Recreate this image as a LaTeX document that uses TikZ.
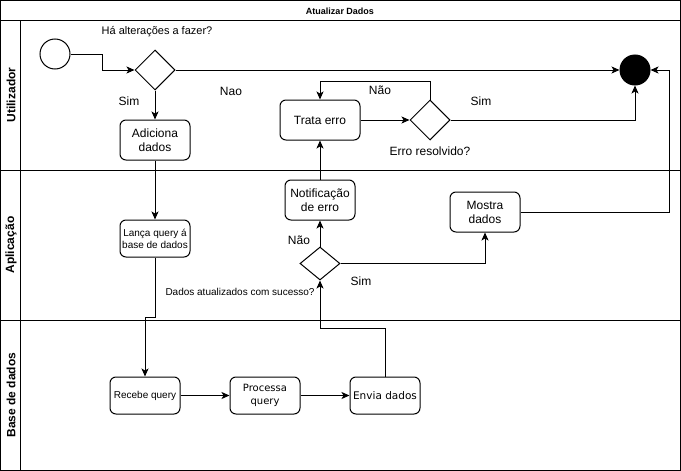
\documentclass[tikz,border=0pt]{standalone}
\usepackage{fontspec}
\setmainfont{Liberation Sans}
\newfontfamily\dejavu{DejaVu Sans}
\usetikzlibrary{arrows.meta,shapes.geometric}
\begin{document}
\begin{tikzpicture}[x=1pt,y=-1pt,line width=1pt,
  font=\fontsize{12}{14}\selectfont,
  act/.style={draw,rounded corners=6pt,minimum width=70pt,align=center,inner sep=1pt},
  dec/.style={draw,diamond,minimum width=40pt,minimum height=40pt,inner sep=0pt},
  arr/.style={-{Stealth[length=8pt,width=7pt,inset=2pt]}},
  lbl/.style={inner sep=0pt},
  small/.style={font=\fontsize{10}{12}\selectfont},
  lane/.style={rotate=90,font=\bfseries\fontsize{12}{14}\selectfont,inner sep=0pt}]
\useasboundingbox (0,0) rectangle (681,471);
% frame and lanes
\draw (0.5,0.5) rectangle (680.5,470.5);
\draw (0.5,20.5) -- (680.5,20.5);
\draw (20.5,20.5) -- (20.5,470.5);
\draw (0.5,170.5) -- (680.5,170.5);
\draw (0.5,320.5) -- (680.5,320.5);
\node[lbl,font=\bfseries\fontsize{9}{11}\selectfont] (title) at (340,11) {Atualizar Dados};
\node[lane] (l1) at (11,95) {Utilizador};
\node[lane] (l2) at (11,245) {Aplicação};
\node[lane] (l3) at (11,395) {Base de dados};
% nodes
\node[draw,circle,minimum size=30pt,inner sep=0pt] (start) at (55,54) {};
\node[draw,circle,fill=black,minimum size=30pt,inner sep=0pt] (end) at (635,70) {};
\node[dec] (d1) at (155,70) {};
\node[act,minimum height=40pt] (adic) at (155,140) {Adiciona\\dados};
\node[act,minimum width=80pt,minimum height=40pt] (trata) at (320,120) {Trata erro};
\node[dec] (d2) at (430,120) {};
\node[act,minimum height=40pt] (notif) at (320,200) {Notificação\\de erro};
\node[act,minimum height=40pt] (mostra) at (485,212) {Mostra\\dados};
\node[act,small,minimum height=37pt,inner sep=0pt] (lanca) at (155,238.5) {Lança query á\\base de dados};
\node[dec,minimum height=33pt] (d3) at (320,263.5) {};
\node[act,small,minimum height=37pt] (recebe) at (145,395.5) {Recebe query};
\node[act,small,minimum height=37pt,font=\dejavu\fontsize{10}{13}\selectfont] (proc) at (265,395.5) {Processa\\query};
\node[act,small,minimum height=37pt,font=\dejavu\fontsize{10.5}{13}\selectfont,inner sep=0pt] (envia) at (385,395.5) {Envia dados};
% labels
\node[lbl,font=\fontsize{11}{13}\selectfont] (q1) at (157,32) {Há alterações a fazer?};
\node[lbl] (sim1) at (129,101) {Sim};
\node[lbl] (nao1) at (231,91) {Nao};
\node[lbl] (nao2) at (380,90) {Não};
\node[lbl] (sim2) at (481,101) {Sim};
\node[lbl] (q2) at (430,151) {Erro resolvido?};
\node[lbl] (nao3) at (299,240) {Não};
\node[lbl] (sim3) at (361,281) {Sim};
\node[lbl,small] (q3) at (240,292) {Dados atualizados com sucesso?};
% connectors
\coordinate (c1) at (102,54);
\draw[arr] (start.east) -- (c1) |- (d1.west);
\draw[arr] (d1.east) -- (end.west);
\draw[arr] (d1.south) -- (adic.north);
\draw[arr] (adic.south) -- (lanca.north);
\coordinate (c2) at (155,317.5);
\coordinate (c3) at (145,317.5);
\draw[arr] (lanca.south) -- (c2) -- (c3) -- (recebe.north);
\draw[arr] (recebe.east) -- (proc.west);
\draw[arr] (proc.east) -- (envia.west);
\coordinate (c4) at (385,328);
\draw[arr] (envia.north) -- (c4) -| (d3.south);
\draw[arr] (d3.north) -- (notif.south);
\draw[arr] (d3.east) -| (mostra.south);
\draw[arr] (notif.north) -- (trata.south);
\draw[arr] (trata.east) -- (d2.west);
\coordinate (c5) at (430,81);
\draw[arr] (d2.north) -- (c5) -| (trata.north);
\draw[arr] (d2.east) -| (end.south);
\coordinate (c6) at (669,212);
\coordinate (c7) at (669,70);
\draw[arr] (mostra.east) -- (c6) -- (c7) -- (end.east);
\end{tikzpicture}
\end{document}
